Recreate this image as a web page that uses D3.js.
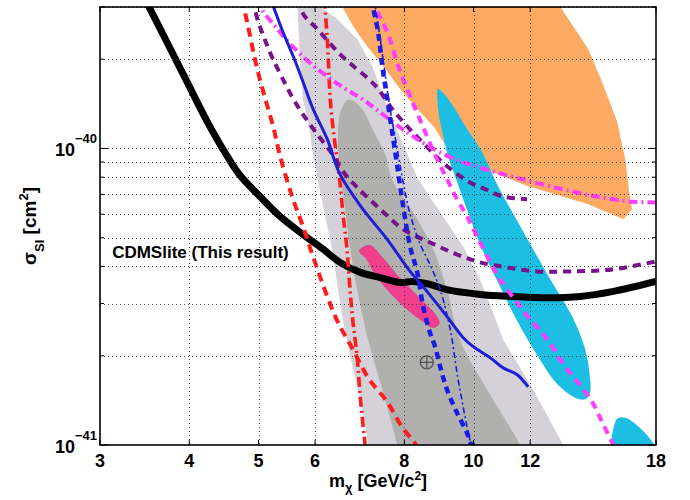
<!DOCTYPE html>
<html><head><meta charset="utf-8">
<script src="https://cdn.jsdelivr.net/npm/d3@7"></script>
<style>
body{margin:0;background:#fff}
svg{display:block}
text{font-family:"Liberation Sans",Arial,Helvetica,sans-serif;font-weight:bold;fill:#000}
</style>
</head><body>
<svg id="chart" width="690" height="500"></svg>
<script>
// ---- data: [mass GeV/c^2, sigma cm^2] ----
const cdmslite = [[3.49,3.10e-40],[3.72,2.29e-40],[3.97,1.68e-40],[4.24,1.23e-40],[4.52,9.42e-41],[4.71,8.12e-41],[5.02,6.90e-41],[5.36,5.90e-41],[5.72,5.21e-41],[6.16,4.57e-41],[6.50,4.13e-41],[6.94,3.82e-41],[7.40,3.67e-41],[7.89,3.53e-41],[8.21,3.56e-41],[8.69,3.48e-41],[9.17,3.34e-41],[10.21,3.22e-41],[11.36,3.17e-41],[12.67,3.14e-41],[14.10,3.17e-41],[15.63,3.29e-41],[18.0,3.56e-41]];
const redDashed = [[4.74,3.2e-40],[4.82,2.67e-40],[4.98,1.85e-40],[5.11,1.47e-40],[5.24,1.19e-40],[5.36,9.42e-41],[5.57,6.90e-41],[5.77,5.46e-41],[5.96,4.32e-41],[6.24,3.17e-41],[6.46,2.59e-41],[6.78,2.10e-41],[7.12,1.685e-41],[7.57,1.398e-41],[7.94,1.151e-41],[8.31,1.0e-41],[8.42,9.47e-42]];
const redDashDot = [[6.18,3.2e-40],[6.24,2.34e-40],[6.30,1.47e-40],[6.36,1.16e-40],[6.44,9.20e-41],[6.50,7.69e-41],[6.57,5.90e-41],[6.65,4.57e-41],[6.72,3.27e-41],[6.78,2.59e-41],[6.87,1.985e-41],[6.94,1.453e-41],[7.05,1.0e-41],[7.07,9.47e-42]];
const purple1 = [[4.90,3.2e-40],[4.99,2.70e-40],[5.11,2.31e-40],[5.22,2.04e-40],[5.39,1.74e-40],[5.63,1.43e-40],[5.94,1.18e-40],[6.30,9.79e-41],[6.61,8.19e-41],[6.87,7.40e-41],[7.40,6.24e-41],[7.97,5.34e-41],[8.69,4.82e-41],[9.48,4.39e-41],[10.21,4.13e-41],[11.14,3.97e-41],[12.27,3.85e-41],[13.65,3.85e-41],[15.64,3.91e-41],[18.0,4.16e-41]];
const purple2 = [[5.70,3.2e-40],[5.77,2.85e-40],[6.04,2.53e-40],[6.50,2.08e-40],[6.78,1.90e-40],[7.12,1.72e-40],[7.35,1.59e-40],[7.69,1.36e-40],[7.97,1.23e-40],[8.20,1.14e-40],[8.55,1.03e-40],[9.04,8.99e-41],[9.82,7.75e-41],[10.38,7.29e-41],[10.96,6.90e-41],[11.88,6.74e-41]];
const magenta1 = [[4.98,3.2e-40],[5.07,2.91e-40],[5.27,2.59e-40],[5.54,2.25e-40],[6.00,1.88e-40],[6.61,1.59e-40],[6.98,1.47e-40],[7.35,1.34e-40],[8.02,1.145e-40],[8.64,1.02e-40],[9.42,9.20e-41],[10.38,8.51e-41],[11.69,7.88e-41],[13.30,7.29e-41],[14.80,6.90e-41],[16.46,6.63e-41],[18.0,6.58e-41]];
const magenta2 = [[7.21,3.2e-40],[7.30,2.96e-40],[7.59,2.435e-40],[7.84,1.90e-40],[8.15,1.50e-40],[8.55,1.14e-40],[8.89,9.20e-41],[9.18,7.88e-41],[9.48,6.74e-41],[9.79,5.90e-41],[10.11,5.05e-41],[10.55,4.13e-41],[10.89,3.61e-41],[11.51,3.02e-41],[12.00,2.65e-41],[12.68,2.27e-41],[13.43,1.835e-41],[14.01,1.62e-41],[14.65,1.398e-41],[15.13,1.196e-41],[15.68,1.0e-41],[15.83,9.47e-42]];
const blueSolid = [[5.21,3.15e-40],[5.41,2.47e-40],[5.59,2.05e-40],[5.77,1.68e-40],[5.96,1.36e-40],[6.24,1.075e-40],[6.50,8.19e-41],[7.00,6.24e-41],[7.57,4.94e-41],[8.15,3.85e-41],[8.61,3.29e-41],[9.18,2.71e-41],[9.67,2.30e-41],[9.98,2.15e-41],[10.55,1.97e-41],[11.00,1.82e-41],[11.51,1.725e-41],[11.92,1.57e-41]];
const blueDashed = [[7.19,3.2e-40],[7.23,3.0e-40],[7.35,2.47e-40],[7.45,1.90e-40],[7.57,1.47e-40],[7.69,1.14e-40],[7.82,8.71e-41],[7.97,6.38e-41],[8.15,4.67e-41],[8.34,3.82e-41],[8.50,2.93e-41],[8.69,2.39e-41],[8.83,2.15e-41],[8.98,1.835e-41],[9.18,1.535e-41],[9.48,1.283e-41],[9.79,1.098e-41],[9.92,1.0e-41],[9.98,9.47e-42]];
const blueDashDot = [[7.25,3.2e-40],[7.33,2.74e-40],[7.47,2.00e-40],[7.64,1.36e-40],[7.82,9.95e-41],[7.97,7.69e-41],[8.15,6.00e-41],[8.42,4.75e-41],[8.69,4.06e-41],[8.98,3.34e-41],[9.21,2.65e-41],[9.33,2.27e-41],[9.48,1.75e-41],[9.67,1.344e-41],[9.79,1.151e-41],[9.92,1.0e-41],[9.98,9.47e-42]];

const lavenderRegion = [[5.66,3.2e-40],[5.72,1.90e-40],[5.77,1.47e-40],[5.90,1.136e-40],[5.94,9.95e-41],[6.06,7.69e-41],[6.20,5.90e-41],[6.34,4.57e-41],[6.46,3.34e-41],[6.57,2.59e-41],[6.72,1.985e-41],[6.89,1.535e-41],[7.03,1.215e-41],[7.12,1.0e-41],[7.16,9.25e-42],[13.56,9.25e-42],[13.35,1.0e-41],[12.12,1.535e-41],[11.00,2.265e-41],[10.65,2.795e-41],[10.21,3.61e-41],[9.67,4.67e-41],[8.98,6.09e-41],[8.36,7.88e-41],[8.02,9.95e-41],[7.59,1.358e-40],[7.21,1.90e-40],[6.87,2.34e-40],[6.44,2.74e-40],[6.06,3.03e-40],[6.02,3.2e-40]];
const darkRegion = [[6.65,1.457e-40],[6.55,1.38e-40],[6.48,1.257e-40],[6.46,9.95e-41],[6.53,7.88e-41],[6.61,6.24e-41],[6.72,4.57e-41],[6.87,3.34e-41],[7.09,2.355e-41],[7.45,1.535e-41],[7.82,1.0e-41],[7.87,9.25e-42],[11.77,9.25e-42],[11.62,1.0e-41],[10.55,1.476e-41],[9.57,2.265e-41],[9.18,3.34e-41],[8.78,4.57e-41],[8.23,6.09e-41],[7.69,7.88e-41],[7.52,9.57e-41],[7.28,1.118e-40],[6.98,1.358e-40],[6.76,1.457e-40]];
const orangeRegion = [[6.52,3.2e-40],[6.55,3.006e-40],[6.78,2.59e-40],[7.09,2.218e-40],[7.47,1.90e-40],[7.89,1.587e-40],[8.34,1.358e-40],[8.78,1.19e-40],[9.21,9.95e-41],[9.89,8.99e-41],[10.38,8.51e-41],[11.92,7.46e-41],[14.47,6.48e-41],[16.20,5.77e-41],[16.67,6.235e-41],[16.56,6.74e-41],[16.30,9.20e-41],[15.89,1.227e-40],[15.13,1.676e-40],[14.47,2.167e-40],[13.22,3.006e-40],[13.09,3.2e-40]];
const cyanRegion = [[8.92,1.587e-40],[9.12,1.515e-40],[9.42,1.358e-40],[9.73,1.19e-40],[10.28,9.72e-41],[10.82,7.46e-41],[11.69,5.335e-41],[12.88,3.53e-41],[13.74,2.71e-41],[14.33,2.10e-41],[14.56,1.66e-41],[14.56,1.51e-41],[14.37,1.43e-41],[14.01,1.43e-41],[13.13,1.595e-41],[12.31,1.985e-41],[11.54,2.59e-41],[10.82,3.53e-41],[10.28,4.57e-41],[9.82,6.09e-41],[9.42,8.06e-41],[9.21,9.42e-41],[9.04,1.136e-40],[8.92,1.358e-40]];
const cyanSmallRegion = [[15.73,9.25e-42],[15.73,1.169e-41],[15.94,1.234e-41],[16.35,1.234e-41],[17.10,1.141e-41],[17.84,1.016e-41],[18.2,9.25e-42]];
const pinkRegion = [[6.94,4.57e-41],[7.16,4.71e-41],[7.47,4.26e-41],[7.82,3.73e-41],[8.23,3.29e-41],[8.61,2.95e-41],[8.86,2.73e-41],[8.95,2.57e-41],[8.78,2.49e-41],[8.42,2.65e-41],[7.97,2.95e-41],[7.62,3.29e-41],[7.30,3.73e-41],[7.07,4.26e-41],[6.92,4.49e-41]];
const bestFit = [8.6, 1.9e-41];

const xTicks = [3,4,5,6,8,10,12,18];
const xGrid = [4,5,6,8,10,12];
const yMajor = [1e-41, 1e-40];
const yMajorExp = ["\u221241", "\u221240"];
const yMinor = [2e-41,3e-41,4e-41,5e-41,6e-41,7e-41,8e-41,9e-41,2e-40,3e-40];
const labelText = "CDMSlite (This result)";
const labelPos = [3.12, 4.26e-41];

// ---- layout ----
const L = 100, T = 7, R = 656, B = 445;
const x = d3.scaleLog().domain([3,18]).range([L,R]);
const y = d3.scaleLog().domain([1e-41,3e-40]).range([B,T]);
const svg = d3.select("#chart");

svg.append("defs").append("clipPath").attr("id","clip")
  .append("rect").attr("x",L).attr("y",T).attr("width",R-L).attr("height",B-T);

const plot = svg.append("g").attr("clip-path","url(#clip)");
const smooth = d3.line().x(d=>x(d[0])).y(d=>y(d[1])).curve(d3.curveCatmullRom.alpha(0.5));
const closedLin = d3.line().x(d=>x(d[0])).y(d=>y(d[1])).curve(d3.curveLinearClosed);
const closedSmooth = d3.line().x(d=>x(d[0])).y(d=>y(d[1])).curve(d3.curveCatmullRomClosed.alpha(0.5));

// fills
plot.append("path").attr("d",closedLin(lavenderRegion)).attr("fill","#d5d1d9");
plot.append("path").attr("d",closedSmooth(darkRegion)).attr("fill","#b0b1ae");
plot.append("path").attr("d",closedLin(orangeRegion)).attr("fill","#fdab64");
plot.append("path").attr("d",closedSmooth(cyanRegion)).attr("fill","#1dbee3");
plot.append("path").attr("d",closedSmooth(cyanSmallRegion)).attr("fill","#1dbee3");
plot.append("path").attr("d",closedSmooth(pinkRegion)).attr("fill","#f23f8d").attr("stroke","#d8307a").attr("stroke-width",0.6);

// grid
const grid = svg.append("g").attr("stroke","#333").attr("stroke-width",1).attr("stroke-dasharray","1,3").attr("opacity",0.85);
grid.selectAll("line.gx").data(xGrid).join("line")
  .attr("x1",d=>Math.round(x(d))+0.5).attr("x2",d=>Math.round(x(d))+0.5).attr("y1",T).attr("y2",B);
grid.selectAll("line.gy").data(yMinor.concat([1e-40])).join("line")
  .attr("y1",d=>Math.round(y(d))+0.5).attr("y2",d=>Math.round(y(d))+0.5).attr("x1",L).attr("x2",R);

// best fit marker
const bf = plot.append("g").attr("stroke","#555").attr("stroke-width",1.3).attr("fill","none");
bf.append("circle").attr("cx",x(bestFit[0])).attr("cy",y(bestFit[1])).attr("r",6.5);
bf.append("line").attr("x1",x(bestFit[0])-6.5).attr("x2",x(bestFit[0])+6.5).attr("y1",y(bestFit[1])).attr("y2",y(bestFit[1]));
bf.append("line").attr("x1",x(bestFit[0])).attr("x2",x(bestFit[0])).attr("y1",y(bestFit[1])-6.5).attr("y2",y(bestFit[1])+6.5);

// lines
function drawLine(data, color, width, dash){
  const p = plot.append("path").attr("d",smooth(data)).attr("fill","none")
    .attr("stroke",color).attr("stroke-width",width).attr("stroke-linejoin","round");
  if(dash) p.attr("stroke-dasharray",dash);
  return p;
}
drawLine(cdmslite,"#000",7,null);
drawLine(redDashed,"#ff1c1c",4,"9,6");
drawLine(redDashDot,"#ff1c1c",3.6,"10,4,2,4");
drawLine(purple1,"#76128a",4,"8,6");
drawLine(purple2,"#76128a",4,"8,6");
drawLine(magenta1,"#ff3cff",4,"9,4,2,4");
drawLine(magenta2,"#ff3cff",4,"8,6");
drawLine(blueSolid,"#1e1ed8",3,null);
drawLine(blueDashed,"#1b1be6",4.5,"7,5");
drawLine(blueDashDot,"#1b1be6",1.6,"6,3,2,3");

// annotation
svg.append("text").attr("x",x(labelPos[0])).attr("y",y(labelPos[1]))
  .attr("font-size",17).text(labelText);

// frame and ticks
svg.append("rect").attr("x",L).attr("y",T).attr("width",R-L).attr("height",B-T)
  .attr("fill","none").attr("stroke","#000").attr("stroke-width",1.6);
const tk = svg.append("g").attr("stroke","#000").attr("stroke-width",1);
xTicks.forEach(v=>{
  const px = x(v);
  tk.append("line").attr("x1",px).attr("x2",px).attr("y1",B).attr("y2",B-5);
  tk.append("line").attr("x1",px).attr("x2",px).attr("y1",T).attr("y2",T+5);
});
yMajor.forEach(v=>{
  const py = y(v);
  tk.append("line").attr("x1",L).attr("x2",L+8).attr("y1",py).attr("y2",py);
  tk.append("line").attr("x1",R).attr("x2",R-8).attr("y1",py).attr("y2",py);
});
yMinor.forEach(v=>{
  const py = y(v);
  tk.append("line").attr("x1",L).attr("x2",L+4).attr("y1",py).attr("y2",py);
  tk.append("line").attr("x1",R).attr("x2",R-4).attr("y1",py).attr("y2",py);
});

// tick labels
svg.append("g").selectAll("text").data(xTicks).join("text")
  .attr("x",d=>x(d)).attr("y",B+22).attr("text-anchor","middle").attr("font-size",18)
  .text(d=>d);
yMajor.forEach((v,i)=>{
  const t = svg.append("text").attr("x",97).attr("y",y(v)+8).attr("text-anchor","end").attr("font-size",18);
  t.append("tspan").text("10");
  t.append("tspan").attr("font-size",13).attr("dy",-13).text(yMajorExp[i]);
});

// axis labels
const xl = svg.append("text").attr("x",(L+R)/2).attr("y",487).attr("text-anchor","middle").attr("font-size",18);
xl.append("tspan").text("m");
xl.append("tspan").attr("font-size",13).attr("dy",5).text("\u03c7");
xl.append("tspan").attr("dy",-5).text(" [GeV/c");
xl.append("tspan").attr("font-size",12).attr("dy",-7).text("2");
xl.append("tspan").attr("dy",7).text("]");

const yl = svg.append("text").attr("transform",`translate(36,${(T+B)/2}) rotate(-90)`)
  .attr("text-anchor","middle").attr("font-size",19);
yl.append("tspan").text("\u03c3");
yl.append("tspan").attr("font-size",13).attr("dy",8).text("SI");
yl.append("tspan").attr("dy",-8).text(" [cm");
yl.append("tspan").attr("font-size",13).attr("dy",-8).text("2");
yl.append("tspan").attr("dy",8).text("]");
</script>
</body></html>
